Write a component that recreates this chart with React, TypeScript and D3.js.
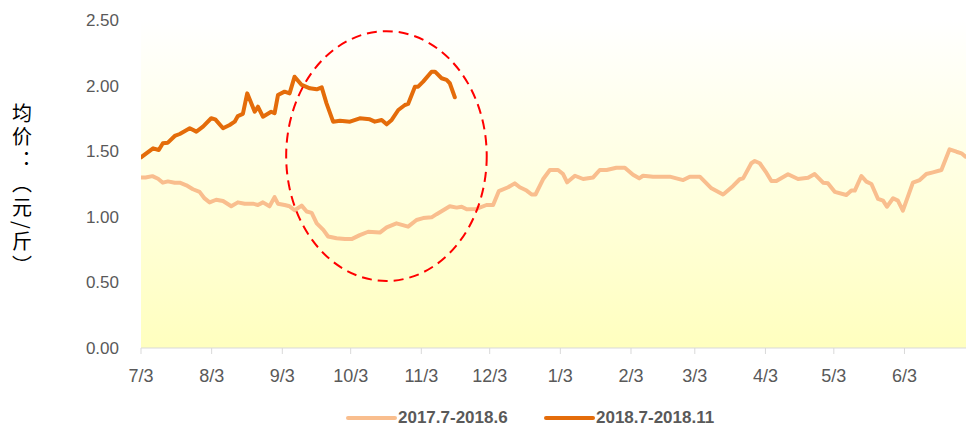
import React from "react";
import * as d3 from "d3";

// Days counted from 7/3 (season start) for each observation
const lightDays = [0, 2, 5, 7.5, 9.6, 11.8, 14.8, 17, 19.9, 22.8, 25.7, 27.9, 30.1, 33, 36, 39.6, 42.5, 45.5, 49.1, 51.3, 53.5, 56.4, 58.6, 60.1, 63, 65.2, 67.4, 70.5, 72.7, 74.9, 77.1, 80, 82.1, 85.8, 89.5, 92.4, 96, 99.7, 104.8, 107.8, 112.1, 117.2, 120.9, 123.8, 127.5, 129.7, 132.6, 135.5, 138.5, 140.7, 142.9, 147.2, 151.6, 154.5, 157, 161.1, 164, 166.2, 169.2, 171.4, 173.1, 176.4, 179.4, 183, 185.2, 187, 190.4, 194, 198.4, 201.3, 204.3, 208.6, 212.3, 215.9, 218.6, 220.3, 224.7, 232, 237.9, 240.8, 245.2, 250.3, 255.4, 256.1, 259.8, 262.7, 264.2, 267.8, 269.3, 271.5, 274.4, 276.6, 278.8, 283.9, 288.3, 292.7, 295.6, 299.3, 301.4, 304.4, 309.5, 311.7, 313.2, 316.1, 318.3, 320.5, 323.4, 325.6, 327.3, 330, 332.1, 334.3, 338.7, 341.7, 344.6, 347.5, 351.2, 354.8, 357.8, 360, 361.8];
const lightValues = [1.30, 1.30, 1.31, 1.29, 1.26, 1.27, 1.26, 1.26, 1.24, 1.21, 1.19, 1.14, 1.11, 1.13, 1.12, 1.08, 1.11, 1.10, 1.10, 1.09, 1.11, 1.08, 1.15, 1.10, 1.09, 1.08, 1.05, 1.085, 1.04, 1.03, 0.95, 0.90, 0.85, 0.836, 0.83, 0.83, 0.86, 0.886, 0.88, 0.92, 0.95, 0.925, 0.976, 0.99, 0.996, 1.02, 1.05, 1.08, 1.07, 1.077, 1.057, 1.06, 1.09, 1.09, 1.195, 1.225, 1.255, 1.225, 1.20, 1.17, 1.17, 1.286, 1.357, 1.357, 1.326, 1.263, 1.313, 1.288, 1.30, 1.357, 1.357, 1.374, 1.374, 1.32, 1.293, 1.313, 1.306, 1.306, 1.28, 1.306, 1.306, 1.217, 1.17, 1.18, 1.235, 1.286, 1.293, 1.408, 1.425, 1.408, 1.336, 1.273, 1.273, 1.324, 1.288, 1.298, 1.326, 1.26, 1.255, 1.19, 1.166, 1.20, 1.20, 1.311, 1.268, 1.25, 1.136, 1.123, 1.077, 1.141, 1.123, 1.047, 1.26, 1.28, 1.326, 1.339, 1.357, 1.514, 1.496, 1.484, 1.458];

const darkDays = [0, 5.3, 7.8, 9.6, 11.8, 14.8, 17, 21.4, 24.3, 27.2, 30.8, 32.6, 36, 38.9, 41.1, 42.5, 44.7, 46.6, 49.9, 51.3, 53.5, 57.1, 58.6, 60.1, 63, 65.2, 67.4, 70.5, 74.1, 77.1, 79.3, 81.4, 84.3, 87.3, 91.7, 96, 100.4, 102.6, 105.6, 107.8, 110, 112.9, 115.8, 117.2, 120.2, 121.6, 123.8, 127.5, 129, 131.9, 134.1, 135.5, 137.7];
const darkValues = [1.453, 1.522, 1.509, 1.56, 1.565, 1.616, 1.631, 1.675, 1.649, 1.687, 1.751, 1.743, 1.675, 1.70, 1.725, 1.768, 1.784, 1.941, 1.801, 1.839, 1.763, 1.801, 1.789, 1.928, 1.954, 1.941, 2.068, 2.005, 1.979, 1.972, 1.987, 1.865, 1.725, 1.732, 1.725, 1.751, 1.743, 1.725, 1.738, 1.705, 1.738, 1.814, 1.852, 1.86, 1.992, 1.992, 2.03, 2.106, 2.106, 2.056, 2.043, 2.018, 1.911];

const seriesNames = ["2017.7-2018.6", "2018.7-2018.11"];
const seriesColors = ["#F9BE8E", "#E46C0A"];
const yTicks = [0, 0.5, 1, 1.5, 2, 2.5];
const monthTicks = [7, 8, 9, 10, 11, 12, 1, 2, 3, 4, 5, 6];
const yTitleParts = ["均价：（元", "/", "斤）"];
// annotation ellipse (center day, center value, half-width in days, half-height in value)
const highlight = { day: 107.7, value: 1.463, rDays: 44, rValue: 0.952 };

const START = new Date(2017, 6, 3);
const dayToDate = (d: number) => new Date(START.getTime() + d * 86400000);

export default function App() {
  const W = 966, H = 426;
  const x = d3.scaleTime().domain([START, dayToDate(362)]).range([141, 966]);
  const y = d3.scaleLinear().domain([0, 2.5]).range([348, 20]);

  const line = d3
    .line<[number, number]>()
    .x((d) => x(dayToDate(d[0])))
    .y((d) => y(d[1]));

  const lightData = lightDays.map((d, i) => [d, lightValues[i]] as [number, number]);
  const darkData = darkDays.map((d, i) => [d, darkValues[i]] as [number, number]);

  const tickDates = monthTicks.map((m, i) => new Date(2017, 6 + i, 3));

  const cx = x(dayToDate(highlight.day));
  const cy = y(highlight.value);
  const rx = x(dayToDate(highlight.day + highlight.rDays)) - cx;
  const ry = y(0) - y(highlight.rValue);

  const labelFont = "'Liberation Sans Narrow', 'Liberation Sans', Arial, sans-serif";

  return (
    <svg
      width={W}
      height={H}
      style={{ position: "absolute", left: 0, top: 0, background: "#fff" }}
      fontFamily="'Liberation Sans', Arial, sans-serif"
    >
      <defs>
        <linearGradient id="bg" x1="0" y1="0" x2="0" y2="1">
          <stop offset="0" stopColor="#FFFFFF" />
          <stop offset="1" stopColor="#FFFFBF" />
        </linearGradient>
        <clipPath id="plot">
          <rect x={141} y={0} width={825} height={348} />
        </clipPath>
      </defs>
      <rect x={141} y={y(2.5)} width={825} height={y(0) - y(2.5)} fill="url(#bg)" />

      {/* y tick labels */}
      {yTicks.map((t) => (
        <text
          key={t}
          x={119}
          y={y(t)}
          dy="0.35em"
          textAnchor="end"
          fontSize={17}
          fill="#595959"
        >
          {t.toFixed(2)}
        </text>
      ))}

      {/* y title */}
      <text
        x={22}
        y={103}
        fontFamily="'Noto Sans CJK SC', sans-serif"
        fontSize={20}
        fill="#000"
        letterSpacing={3.5}
        style={{ writingMode: "vertical-rl", textOrientation: "upright" } as any}
      >
        {yTitleParts[0]}
        <tspan style={{ textOrientation: "sideways" } as any}>{yTitleParts[1]}</tspan>
        {yTitleParts[2]}
      </text>

      {/* x axis */}
      <line x1={141} x2={966} y1={y(0)} y2={y(0)} stroke="#D9D9D9" strokeWidth={1} />
      {tickDates.map((d, i) => (
        <g key={i} transform={`translate(${x(d)},0)`}>
          <line y1={y(0)} y2={y(0) + 6} stroke="#D9D9D9" />
          <text
            y={376}
            dy="0.35em"
            textAnchor="middle"
            fontSize={18}
            fill="#595959"
            fontFamily={labelFont}
          >
            {`${monthTicks[i]}/3`}
          </text>
        </g>
      ))}

      <g clipPath="url(#plot)">
        <path
          d={line(lightData) || ""}
          fill="none"
          stroke={seriesColors[0]}
          strokeWidth={4}
          strokeLinejoin="round"
          strokeLinecap="round"
        />
        <path
          d={line(darkData) || ""}
          fill="none"
          stroke={seriesColors[1]}
          strokeWidth={4}
          strokeLinejoin="round"
          strokeLinecap="round"
        />
      </g>

      <ellipse
        cx={cx}
        cy={cy}
        rx={rx}
        ry={ry}
        fill="none"
        stroke="#FF0000"
        strokeWidth={2}
        strokeDasharray="10 6"
      />

      {/* legend */}
      {seriesNames.map((name, i) => {
        const lx = i === 0 ? 348 : 546;
        return (
          <g key={name}>
            <line
              x1={lx}
              x2={lx + 47}
              y1={418}
              y2={418}
              stroke={seriesColors[i]}
              strokeWidth={4}
              strokeLinecap="round"
            />
            <text
              x={lx + 50}
              y={417}
              dy="0.35em"
              fontSize={17}
              fontWeight="bold"
              fill="#595959"
            >
              {name}
            </text>
          </g>
        );
      })}
    </svg>
  );
}
